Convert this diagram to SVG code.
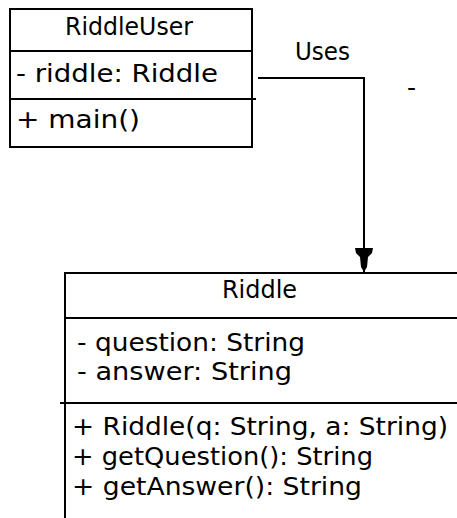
<svg xmlns="http://www.w3.org/2000/svg" width="457" height="518" viewBox="0 0 457 518">
<style>
.box{fill:#fff;stroke:#000;stroke-width:2}
.ln{stroke:#000;stroke-width:2;fill:none}
.t{font-family:"DejaVu Sans","Liberation Sans",sans-serif;font-size:25px;fill:#000}
</style>
<defs>
<marker id="arr" markerUnits="userSpaceOnUse" markerWidth="20" markerHeight="26" refX="9" refY="24" orient="0" viewBox="0 0 20 26">
<path d="M0,0 L18,0 L17,5 L13,9 L12,19 L9,24 L6,19 L5,9 L1,5 Z" fill="#000"/>
</marker>
</defs>
<rect width="457" height="518" fill="#fff"/>
<g id="connectors">
<path class="ln" d="M258,78 H364 V272" marker-end="url(#arr)"/>
<text class="t" x="295" y="60" textLength="55" lengthAdjust="spacingAndGlyphs">Uses</text>
<text class="t" x="407" y="96">-</text>
</g>
<g id="RiddleUser">
<rect class="box" x="10" y="9" width="242" height="138"/>
<line class="ln" x1="10" y1="51" x2="252" y2="51"/>
<line class="ln" x1="10" y1="99" x2="256" y2="99"/>
<text class="t" x="65" y="35" textLength="128" lengthAdjust="spacingAndGlyphs">RiddleUser</text>
<text class="t" x="16" y="82" textLength="202" lengthAdjust="spacingAndGlyphs">- riddle: Riddle</text>
<text class="t" x="16" y="128" textLength="124" lengthAdjust="spacingAndGlyphs">+ main()</text>
</g>
<g id="Riddle">
<rect class="box" x="65" y="273" width="420" height="270"/>
<line class="ln" x1="65" y1="318" x2="457" y2="318"/>
<line class="ln" x1="60" y1="403" x2="457" y2="403"/>
<text class="t" x="222" y="298" textLength="75" lengthAdjust="spacingAndGlyphs">Riddle</text>
<text class="t" x="77" y="351" textLength="228" lengthAdjust="spacingAndGlyphs">- question: String</text>
<text class="t" x="77" y="380" textLength="215" lengthAdjust="spacingAndGlyphs">- answer: String</text>
<text class="t" x="72" y="435" textLength="376" lengthAdjust="spacingAndGlyphs">+ Riddle(q: String, a: String)</text>
<text class="t" x="72" y="465" textLength="301" lengthAdjust="spacingAndGlyphs">+ getQuestion(): String</text>
<text class="t" x="72" y="495" textLength="290" lengthAdjust="spacingAndGlyphs">+ getAnswer(): String</text>
</g>
</svg>
